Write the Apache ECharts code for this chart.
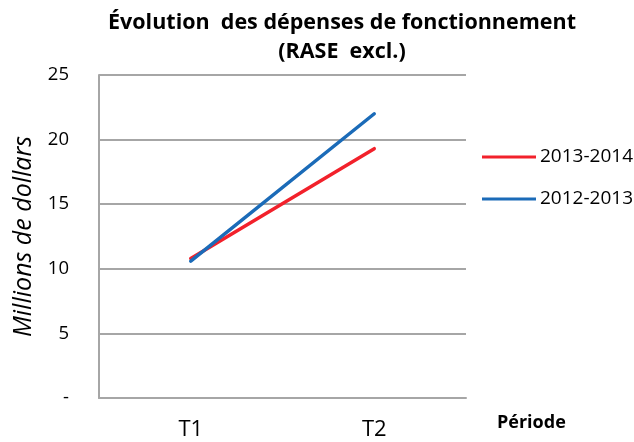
<!DOCTYPE html>
<html><head><meta charset="utf-8">
<script src="https://cdn.jsdelivr.net/npm/echarts@6/dist/echarts.min.js"></script>
<style>html,body{margin:0;padding:0;background:#fff}#c{width:634px;height:442px}</style>
</head><body><div id="c"></div>
<script>
var categories = ['T1', 'T2'];
var seriesNames = ['2013-2014', '2012-2013'];
var values2013_2014 = [10.8, 19.3];
var values2012_2013 = [10.6, 22.0];
var yTicks = [0, 5, 10, 15, 20, 25];

var FONT = '"Open Sans", "Noto Sans", sans-serif';
var chart = echarts.init(document.getElementById('c'));
chart.setOption({
  backgroundColor: '#fff',
  animation: false,
  title: {
    text: 'Évolution  des dépenses de fonctionnement\n(RASE  excl.)',
    left: 337, top: 3, textAlign: 'center',
    textStyle: { fontFamily: FONT, fontWeight: 'bold', fontSize: 21.5, color: '#000', lineHeight: 29 }
  },
  legend: {
    orient: 'vertical', left: 477, top: 142, itemGap: 22,
    itemWidth: 54, itemHeight: 3, icon: 'rect',
    textStyle: { fontFamily: FONT, fontSize: 19, lineHeight: 20, color: '#000', padding: [0, 0, 0, -1] },
    data: seriesNames
  },
  graphic: [{
    type: 'text', left: 497, top: 414,
    style: { text: 'Période', fontFamily: FONT, fontWeight: 'bold', fontSize: 18, fill: '#000' }
  }],
  grid: { left: 99, right: 168, top: 75, bottom: 44 },
  xAxis: {
    type: 'category', data: categories, boundaryGap: true,
    axisLine: { lineStyle: { color: '#a6a6a6', width: 2 } },
    axisTick: { show: false },
    axisLabel: { fontFamily: FONT, fontSize: 22, color: '#000', margin: 21 }
  },
  yAxis: {
    type: 'value', min: 0, max: 25, interval: 5,
    name: 'Millions de dollars', nameLocation: 'middle', nameGap: 63, nameRotate: 90,
    nameTextStyle: { fontFamily: FONT, fontStyle: 'italic', fontSize: 25, color: '#000' },
    axisLine: { show: true, lineStyle: { color: '#a6a6a6', width: 2 } },
    axisTick: { show: false },
    splitLine: { lineStyle: { color: '#a6a6a6', width: 2 } },
    axisLabel: { fontFamily: FONT, fontSize: 18.5, color: '#000', margin: 30,
      formatter: function (v) { return v === 0 ? '-' : String(v); } }
  },
  series: [
    { name: seriesNames[0], type: 'line', data: values2013_2014, symbol: 'none',
      itemStyle: { color: '#f2212b' }, lineStyle: { color: '#f2212b', width: 3.5, cap: 'round' } },
    { name: seriesNames[1], type: 'line', data: values2012_2013, symbol: 'none',
      itemStyle: { color: '#1b6bb8' }, lineStyle: { color: '#1b6bb8', width: 3.5, cap: 'round' } }
  ]
});
</script></body></html>
